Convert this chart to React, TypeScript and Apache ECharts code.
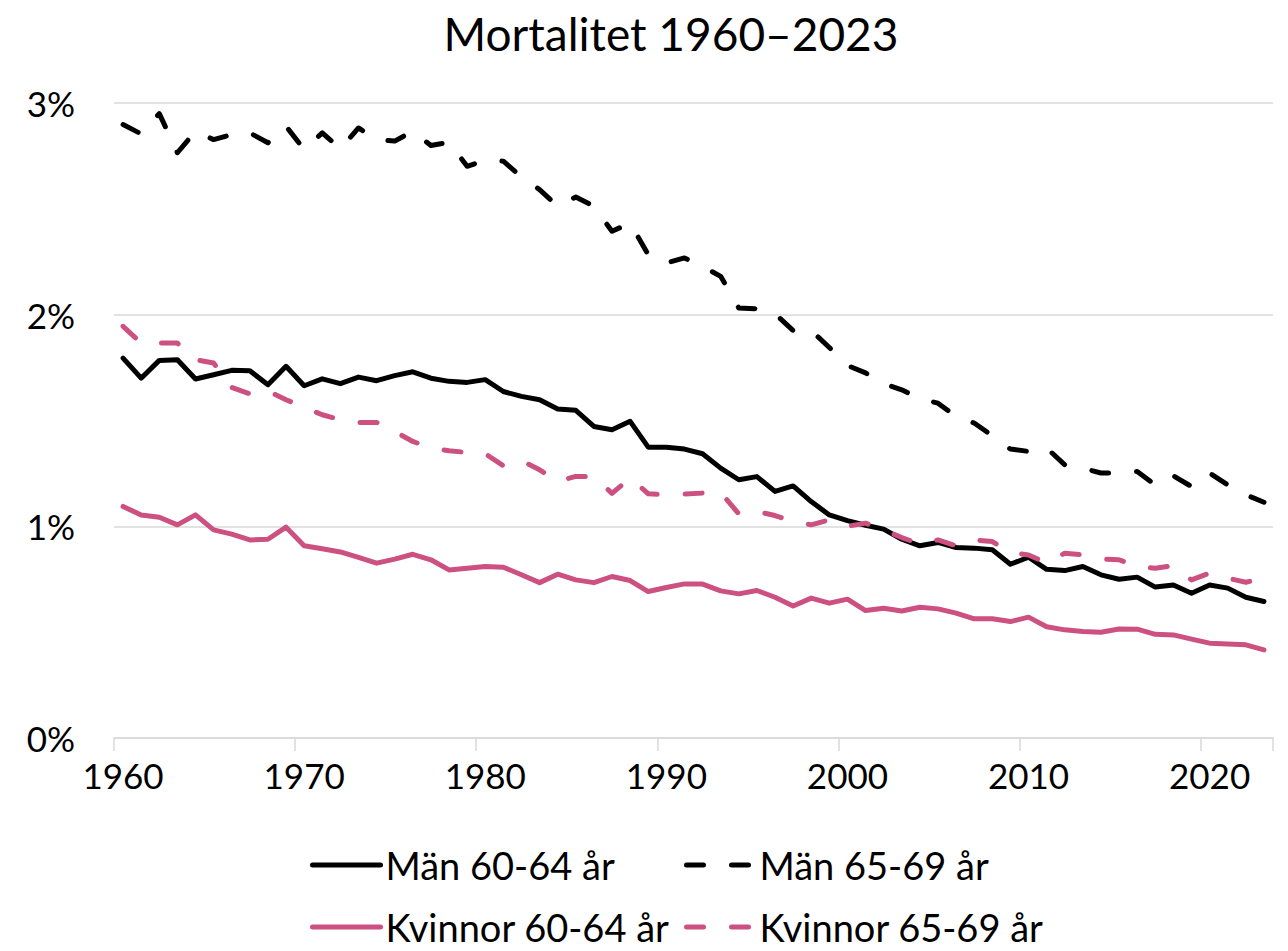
import React, { useEffect, useRef } from "react";
import * as echarts from "echarts";

const years = [
  "1960","1961","1962","1963","1964","1965","1966","1967","1968","1969",
  "1970","1971","1972","1973","1974","1975","1976","1977","1978","1979",
  "1980","1981","1982","1983","1984","1985","1986","1987","1988","1989",
  "1990","1991","1992","1993","1994","1995","1996","1997","1998","1999",
  "2000","2001","2002","2003","2004","2005","2006","2007","2008","2009",
  "2010","2011","2012","2013","2014","2015","2016","2017","2018","2019",
  "2020","2021","2022","2023",
];

const manYoung = [
  1.795, 1.70, 1.784, 1.787, 1.696, 1.716, 1.737, 1.735, 1.669, 1.756,
  1.664, 1.697, 1.674, 1.705, 1.688, 1.712, 1.730, 1.700, 1.685, 1.680,
  1.693, 1.637, 1.614, 1.598, 1.554, 1.548, 1.472, 1.456, 1.496, 1.374,
  1.374, 1.365, 1.343, 1.275, 1.220, 1.235, 1.165, 1.191, 1.117, 1.054,
  1.027, 1.005, 0.987, 0.939, 0.908, 0.924, 0.900, 0.897, 0.889, 0.821,
  0.854, 0.797, 0.791, 0.810, 0.771, 0.750, 0.760, 0.713, 0.723, 0.684,
  0.723, 0.708, 0.665, 0.645,
];

const manOld = [
  2.898, 2.854, 2.95, 2.765, 2.867, 2.827, 2.851, 2.859, 2.812, 2.89,
  2.78, 2.859, 2.783, 2.882, 2.827, 2.82, 2.867, 2.799, 2.815, 2.701,
  2.73, 2.725, 2.65, 2.591, 2.512, 2.556, 2.512, 2.394, 2.433, 2.284,
  2.244, 2.268, 2.228, 2.181, 2.032, 2.028, 2.005, 1.925, 1.925, 1.845,
  1.76, 1.725, 1.674, 1.645, 1.603, 1.582, 1.519, 1.488, 1.428, 1.365,
  1.354, 1.37, 1.291, 1.275, 1.252, 1.252, 1.259, 1.196, 1.239, 1.188,
  1.252, 1.196, 1.149, 1.114,
];

const womanYoung = [
  1.094, 1.054, 1.043, 1.007, 1.054, 0.983, 0.963, 0.936, 0.939, 0.996,
  0.908, 0.894, 0.879, 0.853, 0.826, 0.845, 0.868, 0.842, 0.794, 0.802,
  0.81, 0.807, 0.771, 0.734, 0.774, 0.747, 0.734, 0.763, 0.744, 0.692,
  0.711, 0.728, 0.727, 0.695, 0.681, 0.697, 0.665, 0.624, 0.661, 0.637,
  0.656, 0.602, 0.613, 0.60, 0.618, 0.61, 0.59, 0.563, 0.563, 0.55,
  0.571, 0.526, 0.511, 0.503, 0.50, 0.515, 0.514, 0.49, 0.487, 0.467,
  0.448, 0.444, 0.44, 0.416,
];

const womanOld = [
  1.945, 1.866, 1.866, 1.866, 1.787, 1.772, 1.656, 1.626, 1.64, 1.598,
  1.563, 1.527, 1.504, 1.491, 1.491, 1.448, 1.401, 1.37, 1.357, 1.349,
  1.343, 1.286, 1.31, 1.267, 1.212, 1.236, 1.236, 1.156, 1.228, 1.154,
  1.149, 1.152, 1.157, 1.16, 1.059, 1.07, 1.051, 1.023, 1.007, 1.031,
  1.00, 1.015, 0.983, 0.947, 0.916, 0.936, 0.908, 0.936, 0.928, 0.876,
  0.865, 0.826, 0.873, 0.865, 0.845, 0.842, 0.81, 0.802, 0.815, 0.747,
  0.779, 0.755, 0.736, 0.755,
];

const seriesNames = ["Män 60-64 år", "Män 65-69 år", "Kvinnor 60-64 år", "Kvinnor 65-69 år"];
const yTicks = [0, 1, 2, 3];

const BLACK = "#000000";
const PINK = "#CC5080";
const FONT = "Lato";
const DASH = [17, 28];
const LW = 5;

export default function App() {
  const ref = useRef<HTMLDivElement>(null);
  useEffect(() => {
    if (!ref.current) return;
    const chart = echarts.init(ref.current, undefined, { renderer: "svg" });
    const mk = (name: string, data: number[], color: string, dashed: boolean) => ({
      name,
      type: "line",
      data,
      showSymbol: false,
      symbol: "none",
      smooth: false,
      lineStyle: {
        color,
        width: LW,
        type: dashed ? DASH : "solid",
        cap: "round",
        join: "round",
      },
      itemStyle: { color },
    });
    const legendBase = {
      orient: "horizontal",
      padding: 0,
      itemWidth: 68,
      itemHeight: 14,
      itemGap: 0,
      itemStyle: { opacity: 0, borderWidth: 0 },
      lineStyle: { width: LW, cap: "round" },
      textStyle: { fontFamily: FONT, fontSize: 38, color: "#000", lineHeight: 38 },
    };
    chart.setOption({
      animation: false,
      backgroundColor: "#ffffff",
      title: {
        text: "Mortalitet 1960–2023",
        left: 666,
        top: 5,
        textAlign: "center",
        textStyle: { fontFamily: FONT, fontSize: 46, fontWeight: "normal", color: "#000" },
      },
      legend: [
        { ...legendBase, data: [seriesNames[0]], left: 310, top: 846 },
        { ...legendBase, data: [seriesNames[1]], left: 684, top: 846 },
        { ...legendBase, data: [seriesNames[2]], left: 310, top: 908 },
        { ...legendBase, data: [seriesNames[3]], left: 684, top: 908 },
      ],
      grid: { left: 114, right: 15, top: 103, bottom: 213, containLabel: false },
      xAxis: {
        type: "category",
        data: years,
        boundaryGap: true,
        axisLine: { show: true, lineStyle: { color: "#D9D9D9", width: 1.5 } },
        axisTick: { show: true, interval: 9, length: 13, lineStyle: { color: "#D9D9D9", width: 1.5 } },
        axisLabel: {
          interval: 9,
          margin: 19,
          fontFamily: FONT,
          fontSize: 35,
          color: "#000",
        },
        splitLine: { show: false },
      },
      yAxis: {
        type: "value",
        min: yTicks[0],
        max: yTicks[yTicks.length - 1],
        interval: 1,
        axisLine: { show: false },
        axisTick: { show: false },
        axisLabel: {
          margin: 39,
          fontFamily: FONT,
          fontSize: 35,
          color: "#000",
          formatter: (v: number) => `${v}%`,
        },
        splitLine: { show: true, lineStyle: { color: "#D9D9D9", width: 1.5 } },
      },
      series: [
        mk(seriesNames[0], manYoung, BLACK, false),
        mk(seriesNames[1], manOld, BLACK, true),
        mk(seriesNames[2], womanYoung, PINK, false),
        mk(seriesNames[3], womanOld, PINK, true),
      ],
    });
    return () => chart.dispose();
  }, []);
  return (
    <div
      ref={ref}
      style={{ position: "absolute", left: 0, top: 0, width: 1288, height: 951, background: "#fff" }}
    />
  );
}
